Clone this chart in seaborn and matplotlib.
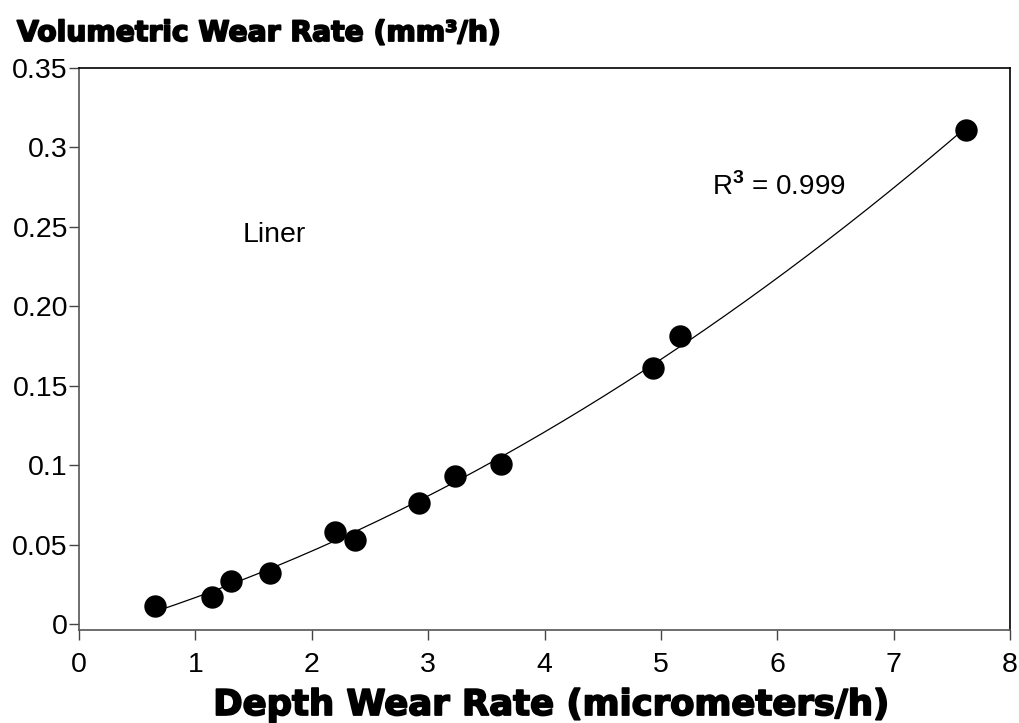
import numpy as np
import pandas as pd
import matplotlib
matplotlib.use("Agg")
import matplotlib.pyplot as plt
import matplotlib.patheffects as pe
import seaborn as sns

# Depth wear rate (micrometers/h) vs volumetric wear rate (mm^3/h) for the liner
depth_rate = [0.65, 1.145, 1.31, 1.645, 2.20, 2.375, 2.92, 3.23, 3.625, 4.93, 5.165, 7.62]
vol_rate = [0.0111, 0.0167, 0.0272, 0.0323, 0.0576, 0.0529, 0.0763, 0.0929, 0.1009, 0.1611, 0.1810, 0.3111]

x_ticks = [0, 1, 2, 3, 4, 5, 6, 7, 8]
y_ticks = [0, 0.05, 0.10, 0.15, 0.20, 0.25, 0.30, 0.35]
y_tick_labels = ["0", "0.05", "0.1", "0.15", "0.20", "0.25", "0.3", "0.35"]

sns.set_theme(style="white")
plt.rcParams["font.family"] = ["Liberation Sans", "DejaVu Sans"]
plt.rcParams["text.color"] = "black"
plt.rcParams["mathtext.fontset"] = "custom"
plt.rcParams["mathtext.rm"] = "Liberation Sans"
plt.rcParams["mathtext.bf"] = "Liberation Sans:bold"

W, H = 1019, 723
fig = plt.figure(figsize=(W / 100, H / 100), dpi=100)
ax = fig.add_axes([79 / W, 1 - 630 / H, (1010 - 79) / W, (630 - 68) / H])

df = pd.DataFrame({"depth": depth_rate, "vol": vol_rate})

# second-order polynomial trend line across the measured range
coef = np.polyfit(df["depth"], df["vol"], 2)
xs = np.linspace(df["depth"].min(), df["depth"].max(), 200)
trend = pd.DataFrame({"depth": xs, "vol": np.polyval(coef, xs)})
sns.lineplot(data=trend, x="depth", y="vol", ax=ax, color="black", lw=0.9)

sns.scatterplot(data=df, x="depth", y="vol", ax=ax, s=260, color="black",
                edgecolor="black", linewidth=0, zorder=3)

ax.set_xlim(0, 8)
ax.set_ylim(-0.0038, 0.35)
ax.set_xticks(x_ticks)
ax.set_xticklabels([str(t) for t in x_ticks])
ax.set_yticks(y_ticks)
ax.set_yticklabels(y_tick_labels)
ax.tick_params(axis="both", which="major", labelsize=20.5, length=7, width=1,
               color="#444444", direction="out", labelcolor="black")
ax.tick_params(axis="y", pad=1)
ax.tick_params(axis="x", pad=9)
ax.xaxis.set_ticks_position("bottom")
ax.yaxis.set_ticks_position("left")

for side in ["left", "bottom"]:
    ax.spines[side].set_color("#555555")
    ax.spines[side].set_linewidth(1.2)
for side in ["top", "right"]:
    ax.spines[side].set_color("black")
    ax.spines[side].set_linewidth(1.2)

ax.set_xlabel("")
ax.set_ylabel("")

ax.text(1.41, 0.245, "Liner", fontsize=20.5, ha="left", va="center", color="black")
ax.text(5.44, 0.275, r"R$^{\mathbf{3}}$ = 0.999", fontsize=20, ha="left", va="center",
        color="black")

# heavy headings: bold face thickened with a matching stroke
heavy = dict(family=["DejaVu Sans"], weight="bold", color="black",
             path_effects=[pe.withStroke(linewidth=1.3, foreground="black")])
fig.text(17 / W, 1 - 41 / H, "Volumetric Wear Rate (mm³/h)", fontsize=20.3,
         ha="left", va="baseline", **heavy)
fig.text(551 / W, 1 - 715 / H, "Depth Wear Rate (micrometers/h)", fontsize=25.5,
         ha="center", va="baseline", **heavy)

fig.savefig("out.png", dpi=100)
